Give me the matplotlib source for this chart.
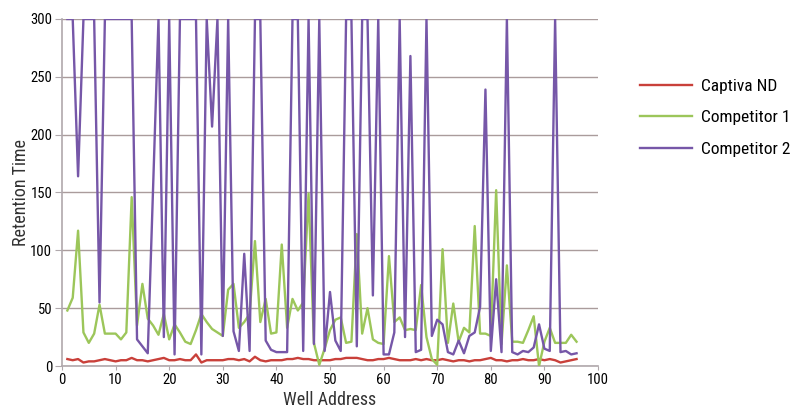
import matplotlib
matplotlib.use("Agg")
import matplotlib.pyplot as plt
from matplotlib import font_manager

# look for a condensed sans face, the reference uses a narrow font
chosen = None
prefs = ["Roboto Condensed", "Liberation Sans Narrow", "Open Sans Condensed",
         "Noto Sans", "DejaVu Sans", "Roboto", "Open Sans", "Inter"]
cands = [f for f in font_manager.fontManager.ttflist
         if ("condensed" in str(f.stretch).lower() or "Condensed" in f.name or "Narrow" in f.name)
         and "Mono" not in f.name and "Serif" not in f.name and f.weight in (400, "normal", "regular")]
for p in prefs:
    for f in cands:
        if f.name == p:
            chosen = f
            break
    if chosen:
        break
if chosen is None and cands:
    chosen = cands[0]
if chosen is not None:
    plt.rcParams['font.family'] = [chosen.name, 'DejaVu Sans']
    plt.rcParams['font.stretch'] = chosen.stretch
    narrow = True
else:
    plt.rcParams['font.family'] = ['Roboto', 'DejaVu Sans']
    narrow = False

# well numbers 1..96
wells = list(range(1, 97))

captiva_nd = [6, 5, 6, 3, 4, 4, 5, 6, 5, 4, 5, 5, 7, 5, 5, 4, 5, 6, 7, 5,
              5, 6, 5, 5, 10, 3, 5, 5, 5, 5, 6, 6, 5, 6, 4, 8, 5, 4, 5, 5,
              5, 6, 6, 7, 6, 6, 5, 5, 5, 5, 6, 6, 7, 7, 7, 6, 5, 5, 6, 6,
              7, 6, 5, 5, 5, 6, 5, 6, 5, 5, 6, 5, 4, 5, 5, 4, 5, 5, 6, 7,
              5, 5, 4, 5, 5, 6, 5, 5, 6, 5, 6, 5, 3, 4, 5, 6]

competitor_1 = [48, 59, 117, 29, 20, 28, 53, 28, 28, 28, 23, 29, 146, 35, 71, 41, 35, 27, 45, 23,
                36, 29, 21, 19, 31, 45, 38, 32, 29, 26, 66, 71, 33, 38, 45, 108, 38, 58, 28, 29,
                105, 33, 58, 48, 55, 149, 20, 1, 15, 31, 40, 42, 20, 21, 114, 28, 50, 23, 20, 19,
                95, 38, 42, 31, 32, 31, 70, 25, 6, 1, 101, 20, 54, 21, 33, 29, 121, 28, 28, 26,
                152, 19, 87, 21, 21, 20, 31, 43, 0, 21, 33, 20, 20, 20, 27, 21]

competitor_2 = [300, 300, 164, 300, 300, 300, 55, 300, 300, 300, 300, 300, 300, 23, 17, 11, 155, 300, 25, 300,
                10, 300, 300, 300, 300, 10, 300, 207, 300, 26, 300, 30, 13, 97, 13, 300, 300, 22, 14, 12,
                12, 12, 300, 300, 13, 300, 19, 300, 13, 64, 22, 13, 300, 300, 17, 300, 300, 61, 300, 10,
                10, 29, 300, 25, 268, 12, 14, 300, 26, 40, 36, 12, 10, 22, 11, 26, 29, 51, 239, 13,
                75, 12, 300, 12, 10, 13, 12, 16, 36, 15, 13, 300, 12, 13, 10, 11]

series = [("Captiva ND", captiva_nd, "#c9403a"),
          ("Competitor 1", competitor_1, "#9cc65a"),
          ("Competitor 2", competitor_2, "#7657a8")]

fig = plt.figure(figsize=(7.95, 4.11), dpi=100)
ax = fig.add_axes([62/795, 1 - 366/411, (598 - 62)/795, (366 - 19)/411])

for label, vals, col in series:
    ax.plot(wells, vals, color=col, lw=1.7, label=label, zorder=3)

ax.set_xlim(0, 100)
ax.set_ylim(0, 300)
ax.set_xticks(range(0, 101, 10))
ax.set_yticks(range(0, 301, 50))

grid_col = "#aa9c9c"
ax.yaxis.grid(True, color=grid_col, lw=1.0, zorder=0)
ax.set_axisbelow(True)
for s in ["top", "right"]:
    ax.spines[s].set_visible(False)
ax.spines["left"].set_color("#b0a8ac")
ax.spines["bottom"].set_color("#b0a8ac")
ax.spines["left"].set_linewidth(1.2)
ax.spines["bottom"].set_linewidth(1.2)

tick_fs = 10.5 if narrow else 9.5
ax.tick_params(axis="y", length=5, color="#b0a8ac", labelsize=tick_fs, pad=2)
ax.tick_params(axis="x", length=3, color="#b0a8ac", labelsize=tick_fs, pad=2)

lab_fs = 13 if narrow else 11.5
ax.set_xlabel("Well Address", fontsize=lab_fs, color="#333333", labelpad=3)
ax.set_ylabel("Retention Time", fontsize=lab_fs, color="#333333", labelpad=0)

leg_fs = 12.5 if narrow else 10.5
handles, labels = ax.get_legend_handles_labels()
fig.legend(handles, labels, loc="upper left", bbox_to_anchor=(624/795, 1 - 63/411),
           frameon=False, fontsize=leg_fs, handlelength=52/(leg_fs*100/72),
           handletextpad=0.55, labelspacing=0.95)

fig.savefig("out.png", dpi=100)
